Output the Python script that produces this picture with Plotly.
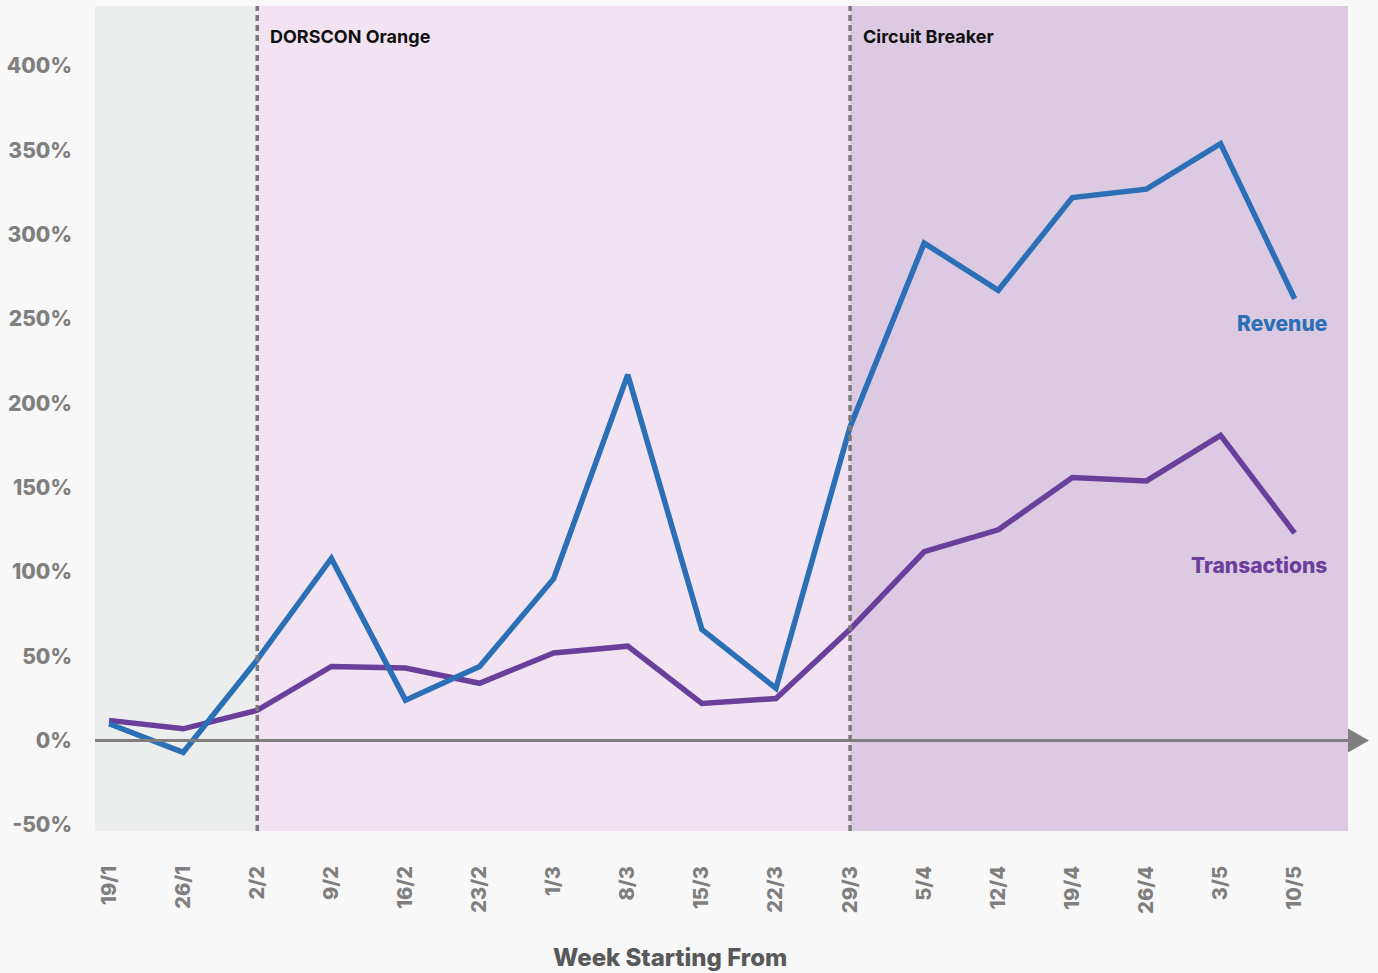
import plotly.graph_objects as go

weeks = ["19/1", "26/1", "2/2", "9/2", "16/2", "23/2", "1/3", "8/3", "15/3", "22/3",
         "29/3", "5/4", "12/4", "19/4", "26/4", "3/5", "10/5"]
revenue = [10, -7, 48, 108, 24, 44, 96, 217, 66, 31, 186, 295, 267, 322, 327, 354, 262]
transactions = [12, 7, 18, 44, 43, 34, 52, 56, 22, 25, 66, 112, 125, 156, 154, 181, 123]
y_ticks = [-50, 0, 50, 100, 150, 200, 250, 300, 350, 400]
y_tick_labels = [f"{v}%" for v in y_ticks]
phase_starts = {"DORSCON Orange": "2/2", "Circuit Breaker": "29/3"}

REV_C = "#2b6fb6"
TRX_C = "#6a3f9b"
GREY = "#7f7f7f"

x = list(range(len(weeks)))
x_lo, x_hi = -0.19, len(weeks) - 1 + 0.72
i_orange = weeks.index(phase_starts["DORSCON Orange"])
i_cb = weeks.index(phase_starts["Circuit Breaker"])

fig = go.Figure()

# background phases
fig.add_vrect(x0=x_lo, x1=i_orange, fillcolor="#eceeed", line_width=0, layer="below")
fig.add_vrect(x0=i_orange, x1=i_cb, fillcolor="#f1e3f1", line_width=0, layer="below")
fig.add_vrect(x0=i_cb, x1=x_hi, fillcolor="#dccae2", line_width=0, layer="below")

# zero axis line with arrow
fig.add_shape(type="line", xref="x domain", yref="y", x0=0, x1=1, y0=0, y1=0,
              line=dict(color=GREY, width=3), layer="above")
fig.add_shape(type="path", xref="paper", yref="y", xsizemode="pixel", ysizemode="pixel",
              xanchor=1, yanchor=0, path="M0,12 L21,0 L0,-12 Z",
              fillcolor=GREY, line=dict(color=GREY, width=0))

# phase boundaries
for i in (i_orange, i_cb):
    fig.add_shape(type="line", xref="x", yref="y domain", x0=i, x1=i, y0=0, y1=1,
                  line=dict(color="#7a7a7a", width=3.5, dash="6px,4px"), layer="above")

fig.add_trace(go.Scatter(x=x, y=transactions, mode="lines", name="Transactions",
                         line=dict(color=TRX_C, width=5.5), showlegend=False,
                         hoverinfo="skip"))
fig.add_trace(go.Scatter(x=x, y=revenue, mode="lines", name="Revenue",
                         line=dict(color=REV_C, width=5.5), showlegend=False,
                         hoverinfo="skip"))

for name, idx in (("DORSCON Orange", i_orange), ("Circuit Breaker", i_cb)):
    fig.add_annotation(x=idx, y=1, xref="x", yref="paper", text=name, showarrow=False,
                       xanchor="left", yanchor="middle", xshift=11, yshift=-30,
                       font=dict(family="Inter", size=18, color="#111111", weight=700))

fig.add_annotation(x=x[-1], y=revenue[-1], text="Revenue", showarrow=False,
                   xanchor="right", yanchor="middle", xshift=34, yshift=-25,
                   font=dict(family="Inter", size=21, color=REV_C, weight=800))
fig.add_annotation(x=x[-1], y=transactions[-1], text="Transactions", showarrow=False,
                   xanchor="right", yanchor="middle", xshift=34, yshift=-32,
                   font=dict(family="Inter", size=21, color=TRX_C, weight=800))

# x axis title (offset left of the plot centre, as in the original)
fig.add_annotation(x=0.459, y=0, xref="paper", yref="paper", yshift=-126,
                   text="Week Starting From", showarrow=False,
                   xanchor="center", yanchor="middle",
                   font=dict(family="Inter", size=24, color="#58595b", weight=800))

fig.update_layout(
    width=1378, height=973,
    margin=dict(l=95, r=30, t=6, b=142),
    paper_bgcolor="#f8f8f8", plot_bgcolor="#f8f8f8",
    font=dict(family="Inter", color=GREY),
)
fig.update_xaxes(range=[x_lo, x_hi], tickmode="array", tickvals=x, ticktext=weeks,
                 tickangle=-90, showgrid=False, zeroline=False, showline=False,
                 ticklabelstandoff=30,
                 tickfont=dict(family="Inter", size=20, color=GREY, weight=800))
fig.update_yaxes(range=[-53.6, 435.6], tickmode="array", tickvals=y_ticks, ticktext=y_tick_labels,
                 showgrid=False, zeroline=False, showline=False, ticklabelstandoff=22,
                 tickfont=dict(family="Inter", size=21, color=GREY, weight=800))

fig.write_html("out.html", config={"displayModeBar": False},
               post_script="document.body.style.margin='0';document.body.style.background='#f8f8f8';")
